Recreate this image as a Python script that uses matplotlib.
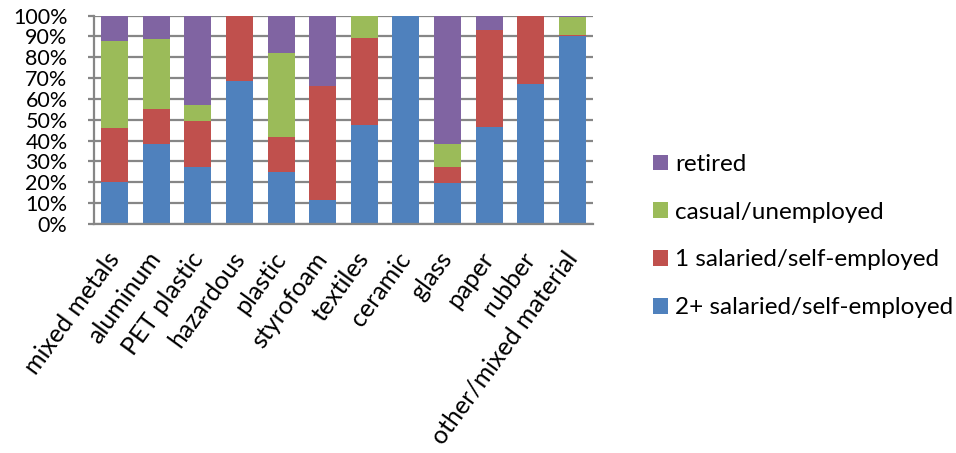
import matplotlib
matplotlib.use("Agg")
import matplotlib.pyplot as plt
from matplotlib.ticker import FuncFormatter, MultipleLocator
import numpy as np

plt.rcParams['font.family'] = ['Lato', 'DejaVu Sans']

categories = ["mixed metals", "aluminum", "PET plastic", "hazardous", "plastic",
              "styrofoam", "textiles", "ceramic", "glass", "paper", "rubber",
              "other/mixed material"]

# Household employment shares (%) per material category
two_plus_salaried = [20.0, 38.3, 27.4, 68.4, 24.8, 11.7, 47.3, 100.0, 19.9, 46.3, 67.1, 90.0]
one_salaried      = [26.2, 16.7, 21.8, 31.6, 16.7, 54.6, 41.8, 0.0, 7.5, 46.8, 32.9, 0.5]
casual_unemployed = [41.8, 33.6, 8.0, 0.0, 40.6, 0.0, 10.9, 0.0, 10.9, 0.0, 0.0, 8.9]
retired           = [12.0, 11.4, 42.8, 0.0, 17.9, 33.7, 0.0, 0.0, 61.7, 6.9, 0.0, 0.6]

series = [
    ("2+ salaried/self-employed", two_plus_salaried, "#4F81BD"),
    ("1 salaried/self-employed", one_salaried, "#C0504D"),
    ("casual/unemployed", casual_unemployed, "#9BBB59"),
    ("retired", retired, "#8064A2"),
]

fig = plt.figure(figsize=(9.56, 4.53), dpi=100)
ax = fig.add_axes([94 / 956, 229 / 453, 499 / 956, 208.5 / 453])

x = np.arange(len(categories))
bottom = np.zeros(len(categories))
handles = []
for label, vals, color in series:
    vals = np.array(vals, dtype=float)
    h = ax.bar(x, vals, width=0.65, bottom=bottom, color=color, label=label,
               zorder=3, linewidth=0)
    handles.append(h)
    bottom += vals

ax.set_xlim(-0.5, len(categories) - 0.5)
ax.set_ylim(0, 100)
ax.yaxis.set_major_locator(MultipleLocator(10))
ax.yaxis.set_major_formatter(FuncFormatter(lambda v, p: f"{int(round(v))}%"))
ax.grid(axis="y", color="#868686", linewidth=1.6, zorder=0)
ax.set_axisbelow(True)

for side in ["top", "right"]:
    ax.spines[side].set_visible(False)
for side in ["left", "bottom"]:
    ax.spines[side].set_color("#868686")
    ax.spines[side].set_linewidth(1.6)
    ax.spines[side].set_zorder(4)

ax.tick_params(axis="y", length=4, width=1.6, color="#868686", labelsize=15.5, pad=15)
ax.tick_params(axis="x", length=0, labelsize=18, pad=22)
ax.set_xticks(x)
ax.set_xticklabels(categories, rotation=54, ha="right", va="center",
                   rotation_mode="anchor")

fig.legend(handles[::-1], [s[0] for s in series][::-1],
           loc="upper left", bbox_to_anchor=(653 / 956, 1 - 154 / 453),
           frameon=False, fontsize=17.5, handlelength=0.62, handleheight=0.62,
           handletextpad=0.3, labelspacing=1.1, borderaxespad=0, borderpad=0)

fig.savefig("out.png", dpi=100)
